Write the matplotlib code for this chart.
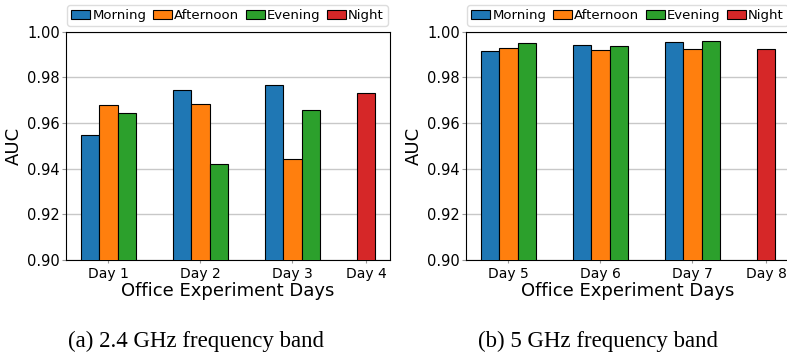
import numpy as np
import matplotlib
matplotlib.use("Agg")
import matplotlib.pyplot as plt

# values
days_24 = ["Day 1", "Day 2", "Day 3", "Day 4"]
morning_24 = [0.9548, 0.9745, 0.9767]
afternoon_24 = [0.9678, 0.9683, 0.9441]
evening_24 = [0.9643, 0.9422, 0.9656]
night_24 = 0.9733

days_5 = ["Day 5", "Day 6", "Day 7", "Day 8"]
morning_5 = [0.9917, 0.9942, 0.9956]
afternoon_5 = [0.9930, 0.9920, 0.9923]
evening_5 = [0.9952, 0.9939, 0.9961]
night_5 = 0.9924

colors = ["#1f77b4", "#ff7f0e", "#2ca02c", "#d62728"]
names = ["Morning", "Afternoon", "Evening", "Night"]

W, H = 787, 353
fig = plt.figure(figsize=(W / 100, H / 100), dpi=100)


def panel(left, days, m, a, e, n, caption, cap_x):
    ax = fig.add_axes([left / W, 1 - 260 / H, 324 / W, 228.3 / H])
    w = 0.2
    x = np.arange(3)
    kw = dict(width=w, edgecolor="black", linewidth=0.8, zorder=3)
    ax.bar(x - w, m, color=colors[0], label=names[0], **kw)
    ax.bar(x, a, color=colors[1], label=names[1], **kw)
    ax.bar(x + w, e, color=colors[2], label=names[2], **kw)
    ax.bar([2.8], [n], color=colors[3], label=names[3], **kw)
    ax.set_xticks([0, 1, 2, 2.8])
    ax.set_xticklabels(days)
    ax.set_ylim(0.90, 1.00)
    ax.set_yticks([0.90, 0.92, 0.94, 0.96, 0.98, 1.00])
    ax.set_yticklabels(["%.2f" % v for v in ax.get_yticks()])
    ax.grid(axis="y", color="#c8c8c8", linewidth=1.0, zorder=0)
    ax.tick_params(axis="y", labelsize=10.5, length=3, pad=1.5, color="#999999")
    ax.tick_params(axis="x", labelsize=10, length=2, pad=3, color="#999999")
    ax.set_ylabel("AUC", fontsize=13, labelpad=3)
    ax.set_xlabel("Office Experiment Days", fontsize=13, labelpad=1)
    ax.legend(loc="lower left", bbox_to_anchor=(0.004, 1.025), borderaxespad=0,
              ncol=4, fontsize=9.5, handlelength=1.45, handleheight=0.7,
              handletextpad=0.15, columnspacing=0.5, borderpad=0.3,
              fancybox=True, framealpha=1, edgecolor="#dddddd")
    fig.text(cap_x / W, 6.3 / H, caption, ha="center", va="baseline",
             fontsize=16.5, family="Liberation Serif")
    return ax


panel(66, days_24, morning_24, afternoon_24, evening_24, night_24,
      "(a) 2.4 GHz frequency band", 196.5)
panel(466, days_5, morning_5, afternoon_5, evening_5, night_5,
      "(b) 5 GHz frequency band", 598.5)

fig.savefig("out.png", dpi=100)
